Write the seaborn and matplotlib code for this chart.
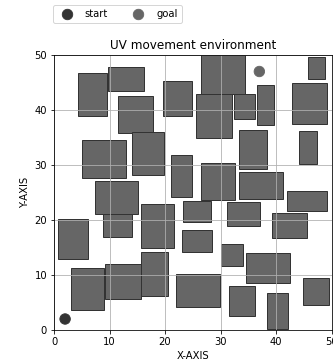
import pandas as pd
import seaborn as sns
from matplotlib import pyplot as plt
from matplotlib.patches import Rectangle

# obstacles: lower-left corner, width, height
obs_x = [4.4, 9.7, 11.6, 19.6, 5.0, 14.0, 8.8, 7.3, 21.0, 25.5, 26.5, 32.4, 36.5, 45.7, 42.9,
         33.3, 44.1, 26.5, 33.3, 42.0, 23.3, 31.2, 39.2, 23.0, 30.0, 34.6, 22.0, 31.5, 38.4,
         44.9, 0.8, 15.6, 3.1, 9.2, 15.6]
obs_y = [39.0, 43.5, 35.9, 39.0, 27.6, 28.2, 16.9, 21.1, 24.1, 34.9, 43.0, 38.3, 37.3, 45.6, 37.5,
         29.2, 30.1, 23.6, 23.9, 21.7, 19.6, 18.9, 16.8, 14.1, 11.7, 8.5, 4.1, 2.6, 0.2,
         4.5, 12.9, 15.0, 3.6, 5.6, 6.1]
obs_w = [5.2, 6.5, 6.2, 5.3, 7.9, 5.9, 5.3, 7.9, 3.8, 6.6, 8.0, 3.8, 3.1, 3.2, 6.2,
         5.0, 3.3, 6.1, 8.0, 7.1, 4.9, 5.9, 6.3, 5.5, 4.1, 7.9, 7.9, 4.8, 3.8,
         4.6, 5.4, 6.0, 5.9, 6.4, 4.9]
obs_h = [7.7, 4.4, 6.7, 6.3, 6.9, 7.8, 4.3, 6.0, 7.7, 8.0, 7.0, 4.6, 7.2, 4.1, 7.4,
         7.2, 6.1, 6.7, 4.9, 3.6, 3.9, 4.4, 4.4, 4.1, 3.9, 5.5, 6.0, 5.4, 6.6,
         4.9, 7.3, 7.9, 7.7, 6.4, 8.0]

# start / goal
pt_label = ['start', 'goal']
pt_x = [2, 37]
pt_y = [2, 47]

fig, ax = plt.subplots(figsize=(333 / 72, 362 / 72), dpi=72)
fig.subplots_adjust(left=54 / 333, right=331.5 / 333, top=1 - 55 / 362, bottom=1 - 330 / 362)

for x, y, w, h in zip(obs_x, obs_y, obs_w, obs_h):
    ax.add_patch(Rectangle((x, y), w, h, facecolor='#666666', edgecolor='#333333', linewidth=1))

df = pd.DataFrame({'x': pt_x, 'y': pt_y, 'label': pt_label})
sns.scatterplot(data=df, x='x', y='y', hue='label', palette=['#333333', '#666666'],
                s=110, edgecolor=None, ax=ax)

ax.set_xlim(0, 50)
ax.set_ylim(0, 50)
ax.set_xticks(range(0, 51, 10))
ax.set_yticks(range(0, 51, 10))
ax.grid(True)
ax.set_title('UV movement environment')
ax.set_xlabel('X-AXIS')
ax.set_ylabel('Y-AXIS')
ax.legend(title=None, ncol=2, loc='lower left', bbox_to_anchor=(-0.004, 1.116), borderaxespad=0)

plt.savefig('out.png', dpi=72)
